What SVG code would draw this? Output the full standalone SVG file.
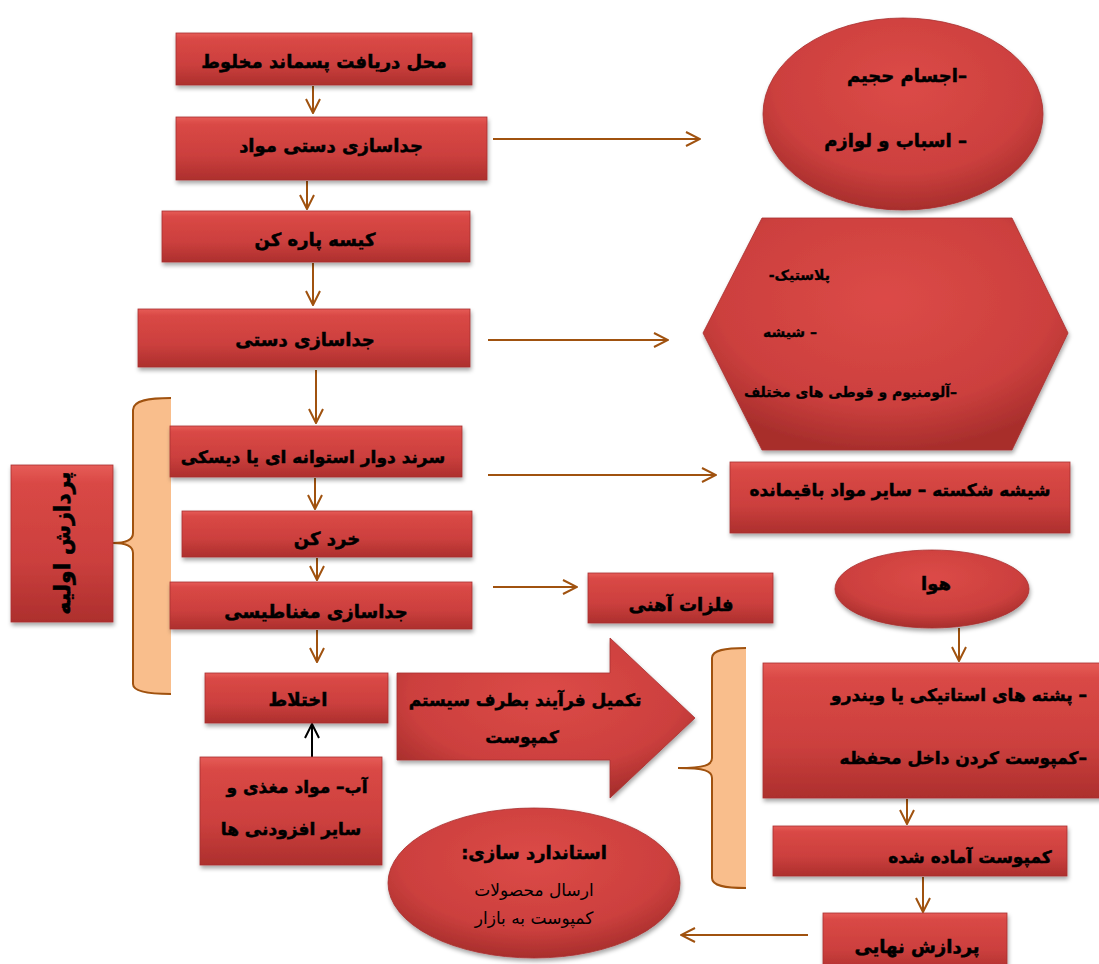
<svg xmlns="http://www.w3.org/2000/svg" width="1099" height="964" viewBox="0 0 1099 964">
<defs>
<style>
.box{fill:url(#gr);stroke:#a83030;stroke-width:0.8;filter:url(#sh)}
.ov{fill:url(#rg);stroke:#a83030;stroke-width:0.8;filter:url(#sh)}
.t{font-family:"DejaVu Sans",sans-serif;font-weight:bold;font-size:18px;fill:#000;stroke:#000;stroke-width:0.5;direction:rtl}
.n{font-weight:normal;font-size:17px;stroke:none}
.m{font-size:17px}
.s{font-size:14px;stroke-width:0.3}
.c{text-anchor:middle}
.r{text-anchor:start}
.con{stroke:#a0520f;stroke-width:2;fill:none;marker-end:url(#ah)}
.blk{stroke:#000;stroke-width:2;fill:none;marker-end:url(#ahk)}
.brf{fill:#f9be8c;stroke:none}
.brs{fill:none;stroke:#a0520f;stroke-width:2}
</style>
<linearGradient id="gr" x1="0" y1="0" x2="0" y2="1">
<stop offset="0" stop-color="#e65c57"/>
<stop offset="0.12" stop-color="#d94845"/>
<stop offset="0.6" stop-color="#cc403e"/>
<stop offset="1" stop-color="#ad2f2d"/>
</linearGradient>
<radialGradient id="rg" cx="0.5" cy="0.35" r="0.65">
<stop offset="0" stop-color="#dc4a47"/>
<stop offset="0.7" stop-color="#cc403e"/>
<stop offset="1" stop-color="#a82e2c"/>
</radialGradient>
<filter id="sh" x="-10%" y="-10%" width="120%" height="130%">
<feDropShadow dx="1" dy="3" stdDeviation="2" flood-color="#000" flood-opacity="0.35"/>
</filter>
<marker id="ah" viewBox="0 0 16 16" refX="15" refY="8" markerWidth="16" markerHeight="16" markerUnits="userSpaceOnUse" orient="auto">
<path d="M1,1 L15,8 L1,15" fill="none" stroke="#a0520f" stroke-width="2"/>
</marker>
<marker id="ahk" viewBox="0 0 16 16" refX="15" refY="8" markerWidth="16" markerHeight="16" markerUnits="userSpaceOnUse" orient="auto">
<path d="M1,1 L15,8 L1,15" fill="none" stroke="#000" stroke-width="2"/>
</marker>
</defs>
<rect width="1099" height="964" fill="#fff"/>

<g id="braces">
<path class="brf" d="M171,398 C150,398 133,400 133,410 L133,533 C133,540 125,543 113,543 C125,543 133,546 133,553 L133,684 C133,692 150,694 171,694 Z"/>
<path class="brs" d="M171,398 C150,398 133,400 133,410 L133,533 C133,540 125,543 113,543 C125,543 133,546 133,553 L133,684 C133,692 150,694 171,694"/>
<path class="brf" d="M746,648 C725,648 712,650 712,658 L712,758 C712,765 705,768 678,768 C705,768 712,771 712,778 L712,878 C712,886 725,888 746,888 Z"/>
<path class="brs" d="M746,648 C725,648 712,650 712,658 L712,758 C712,765 705,768 678,768 C705,768 712,771 712,778 L712,878 C712,886 725,888 746,888"/>
</g>

<g id="connectors">
<line class="con" x1="313" y1="86" x2="313" y2="113"/>
<line class="con" x1="307" y1="181" x2="307" y2="209"/>
<line class="con" x1="313" y1="263" x2="313" y2="305"/>
<line class="con" x1="316" y1="370" x2="316" y2="423"/>
<line class="con" x1="315" y1="478" x2="315" y2="509"/>
<line class="con" x1="317" y1="558" x2="317" y2="580"/>
<line class="con" x1="317" y1="630" x2="317" y2="662"/>
<line class="blk" x1="312" y1="757" x2="312" y2="724"/>
<line class="con" x1="493" y1="139" x2="700" y2="139"/>
<line class="con" x1="488" y1="340" x2="668" y2="340"/>
<line class="con" x1="488" y1="475" x2="716" y2="475"/>
<line class="con" x1="493" y1="587" x2="577" y2="587"/>
<line class="con" x1="959" y1="628" x2="959" y2="661"/>
<line class="con" x1="907" y1="799" x2="907" y2="824"/>
<line class="con" x1="923" y1="877" x2="923" y2="912"/>
<line class="con" x1="808" y1="935" x2="681" y2="935"/>
</g>

<g id="n1"><rect class="box" x="176" y="33" width="296" height="52"/><text class="t c" x="324" y="68">محل دریافت پسماند مخلوط</text></g>
<g id="n2"><rect class="box" x="176" y="117" width="311" height="63"/><text class="t c" x="331" y="152">جداسازی دستی مواد</text></g>
<g id="n3"><rect class="box" x="162" y="211" width="308" height="51"/><text class="t c" x="315" y="246">کیسه پاره کن</text></g>
<g id="n4"><rect class="box" x="138" y="309" width="332" height="58"/><text class="t c" x="305" y="346">جداسازی دستی</text></g>
<g id="n5"><rect class="box" x="170" y="426" width="292" height="51"/><text class="t c m" x="313" y="463">سرند  دوار استوانه ای یا دیسکی</text></g>
<g id="n6"><rect class="box" x="182" y="511" width="290" height="46"/><text class="t c" x="327" y="545">خرد کن</text></g>
<g id="n7"><rect class="box" x="170" y="582" width="302" height="47"/><text class="t c" x="316" y="618">جداسازی مغناطیسی</text></g>
<g id="n8"><rect class="box" x="205" y="673" width="183" height="50"/><text class="t c" x="298" y="706">اختلاط</text></g>
<g id="n9"><rect class="box" x="200" y="757" width="182" height="108"/><text class="t c m" x="297" y="793">آب– مواد مغذی و</text><text class="t c m" x="291" y="835">سایر افزودنی ها</text></g>
<g id="n10"><rect class="box" x="11" y="465" width="102" height="157"/><text class="t c" style="font-size:22px" transform="translate(62,543) rotate(-90)" x="0" y="8">پردازش اولیه</text></g>

<g id="e1"><ellipse class="ov" cx="903" cy="114" rx="140" ry="96"/><text class="t r" x="967" y="82">–اجسام حجیم</text><text class="t r" x="967" y="147">– اسباب و لوازم</text></g>
<g id="hex"><polygon class="ov" points="762,218 1012,218 1068,333 1012,450 762,450 703,333"/><text class="t r s" x="830" y="280">پلاستیک-</text><text class="t r s" x="817" y="337">– شیشه</text><text class="t r s" x="957" y="397">–آلومنیوم و قوطی های مختلف</text></g>
<g id="n11"><rect class="box" x="730" y="462" width="340" height="71"/><text class="t c m" x="900" y="496">شیشه شکسته – سایر مواد باقیمانده</text></g>
<g id="n12"><rect class="box" x="588" y="573" width="185" height="50"/><text class="t c" x="681" y="611">فلزات آهنی</text></g>
<g id="e2"><ellipse class="ov" cx="932" cy="589" rx="97" ry="39"/><text class="t c" x="936" y="590">هوا</text></g>
<g id="arrowBig"><path class="ov" d="M397,673 L610,673 L610,638 L695,718 L610,798 L610,760 L397,760 Z"/><text class="t c m" x="525" y="706">تکمیل فرآیند بطرف سیستم</text><text class="t c m" x="522" y="743">کمپوست</text></g>
<g id="n13"><rect class="box" x="763" y="663" width="345" height="135"/><text class="t r m" x="1087" y="701">– پشته های استاتیکی  یا ویندرو</text><text class="t r m" x="1087" y="764">–کمپوست کردن داخل محفظه</text></g>
<g id="n14"><rect class="box" x="773" y="826" width="294" height="50"/><text class="t c m" x="970" y="863">کمپوست آماده شده</text></g>
<g id="n15"><rect class="box" x="823" y="913" width="184" height="60"/><text class="t c" x="917" y="953">پردازش نهایی</text></g>
<g id="e3"><ellipse class="ov" cx="534" cy="883" rx="146" ry="75"/><text class="t c" x="534" y="859">استاندارد سازی:</text><text class="t c n" x="534" y="896">ارسال محصولات</text><text class="t c n" x="534" y="924">کمپوست به بازار</text></g>
</svg>
